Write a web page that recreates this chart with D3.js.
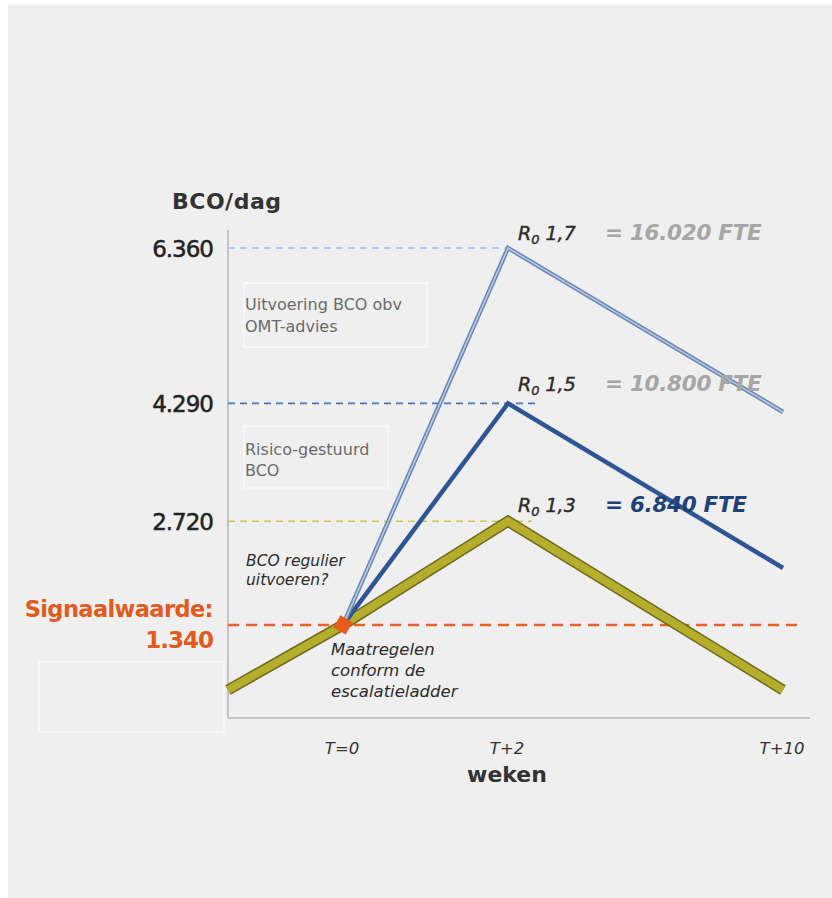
<!DOCTYPE html>
<html>
<head>
<meta charset="utf-8">
<script src="https://cdn.jsdelivr.net/npm/d3@7"></script>
<style>
  html, body { margin: 0; padding: 0; background: #ffffff; }
  svg { display: block; }
</style>
</head>
<body>
<svg id="chart" width="832" height="898"></svg>
<script>
// tijdpunten (weken) en bijbehorende labels
const weken = [-1, 0, 2, 10];
const tickLabels = ["T=0", "T+2", "T+10"];
const tickWeken = [0, 2, 10];

// BCO per dag per scenario
const r13 = [473, 1340, 2720, 473];
const r15 = [null, 1340, 4290, 2098];
const r17 = [null, 1340, 6360, 4176];

const yTicks = [6360, 4290, 2720];
const signaal = 1340;

const scenarios = [
  { name: "R17", values: r17, label: "1,7", fte: "= 16.020 FTE", peak: 6360, dashTo: 2 },
  { name: "R15", values: r15, label: "1,5", fte: "= 10.800 FTE", peak: 4290, dashTo: 2.9 },
  { name: "R13", values: r13, label: "1,3", fte: "= 6.840 FTE", peak: 2720, dashTo: 2.7 }
];

const svg = d3.select("#chart");
const font = "'DejaVu Sans', sans-serif";

// achtergrondpaneel
svg.append("rect")
  .attr("x", 8).attr("y", 5)
  .attr("width", 824).attr("height", 893)
  .attr("fill", "#efefef");

// schalen (x is schematisch, stuksgewijs lineair)
const x = d3.scaleLinear().domain(weken).range([228, 343, 508, 783]);
const y = d3.scaleLinear().domain([100, 6360]).range([718, 248]);

const fmt = d3.formatLocale({ decimal: ",", thousands: ".", grouping: [3] }).format(",");

// tekstvakken
const boxes = [
  { x: 244, y: 283, w: 183, h: 64 },
  { x: 244, y: 426, w: 144, h: 62 },
  { x: 39, y: 662, w: 185, h: 70 }
];
svg.selectAll("rect.box")
  .data(boxes)
  .enter().append("rect")
  .attr("class", "box")
  .attr("x", d => d.x).attr("y", d => d.y)
  .attr("width", d => d.w).attr("height", d => d.h)
  .attr("fill", "none")
  .attr("stroke", "#f9f9f9")
  .attr("stroke-width", 1.5);

// assen
svg.append("line")
  .attr("x1", x(-1)).attr("x2", x(-1))
  .attr("y1", 230).attr("y2", y(100))
  .attr("stroke", "#c4c4c4").attr("stroke-width", 2);
svg.append("line")
  .attr("x1", x(-1)).attr("x2", 810)
  .attr("y1", y(100)).attr("y2", y(100))
  .attr("stroke", "#c4c4c4").attr("stroke-width", 2);

// hulplijnen (gestippeld)
const dashColors = { R17: "#a9c0de", R15: "#4a74b8", R13: "#c9cd55" };
scenarios.forEach(s => {
  svg.append("line")
    .attr("x1", x(-1)).attr("x2", x(s.dashTo))
    .attr("y1", y(s.peak)).attr("y2", y(s.peak))
    .attr("stroke", dashColors[s.name])
    .attr("stroke-width", 1.6)
    .attr("stroke-dasharray", "7,5");
});
svg.append("line")
  .attr("x1", x(-1)).attr("x2", 800)
  .attr("y1", y(signaal)).attr("y2", y(signaal))
  .attr("stroke", "#e8622a")
  .attr("stroke-width", 2.5)
  .attr("stroke-dasharray", "11,7");

// lijnen
const line = d3.line()
  .defined(d => d[1] != null)
  .x(d => x(d[0]))
  .y(d => y(d[1]));

const pts = vals => weken.map((w, i) => [w, vals[i]]);

// R0 1,3 - dikke olijfgroene lijn
svg.append("path").datum(pts(r13)).attr("d", line)
  .attr("fill", "none").attr("stroke", "#6f6a1c").attr("stroke-width", 11)
  .attr("stroke-linejoin", "miter");
svg.append("path").datum(pts(r13)).attr("d", line)
  .attr("fill", "none").attr("stroke", "#b4ae2c").attr("stroke-width", 8)
  .attr("stroke-linejoin", "miter");

// R0 1,5 - donkerblauw
svg.append("path").datum(pts(r15)).attr("d", line)
  .attr("fill", "none").attr("stroke", "#2f5595").attr("stroke-width", 4.5)
  .attr("stroke-linejoin", "miter");

// R0 1,7 - lichtblauw met rand
svg.append("path").datum(pts(r17)).attr("d", line)
  .attr("fill", "none").attr("stroke", "#6985b3").attr("stroke-width", 4.5)
  .attr("stroke-linejoin", "miter");
svg.append("path").datum(pts(r17)).attr("d", line)
  .attr("fill", "none").attr("stroke", "#b8c9e2").attr("stroke-width", 1.6)
  .attr("stroke-linejoin", "miter");

// signaalpunt
svg.append("rect")
  .attr("x", -7).attr("y", -7).attr("width", 14).attr("height", 14)
  .attr("transform", `translate(${x(0)},${y(signaal)}) rotate(30)`)
  .attr("fill", "#ea5a1a");

// y-as titel en labels
svg.append("text")
  .attr("x", 172).attr("y", 209)
  .attr("font-family", font).attr("font-weight", "bold")
  .attr("font-size", 22).attr("fill", "#333")
  .attr("letter-spacing", 0.5)
  .text("BCO/dag");

svg.selectAll("text.ytick")
  .data(yTicks)
  .enter().append("text")
  .attr("class", "ytick")
  .attr("x", 213).attr("y", d => y(d) + 9)
  .attr("text-anchor", "end")
  .attr("font-family", font).attr("font-size", 23)
  .attr("fill", "#222")
  .attr("stroke", "#222").attr("stroke-width", 0.5)
  .attr("letter-spacing", -1)
  .text(d => fmt(d));

svg.append("text")
  .attr("x", 213).attr("y", 617)
  .attr("text-anchor", "end")
  .attr("font-family", font).attr("font-weight", "bold")
  .attr("font-size", 22.5).attr("fill", "#e25a1e")
  .attr("letter-spacing", -0.6)
  .text("Signaalwaarde:");
svg.append("text")
  .attr("x", 213).attr("y", 648)
  .attr("text-anchor", "end")
  .attr("font-family", font).attr("font-weight", "bold")
  .attr("font-size", 23).attr("fill", "#e25a1e")
  .attr("letter-spacing", -1)
  .text(fmt(signaal));

// x-as labels
svg.selectAll("text.xtick")
  .data(tickWeken)
  .enter().append("text")
  .attr("class", "xtick")
  .attr("x", d => x(d) - 1).attr("y", 754)
  .attr("text-anchor", "middle")
  .attr("font-family", font).attr("font-style", "italic")
  .attr("font-size", 16.5).attr("fill", "#333")
  .text((d, i) => tickLabels[i]);

svg.append("text")
  .attr("x", 507).attr("y", 782)
  .attr("text-anchor", "middle")
  .attr("font-family", font).attr("font-weight", "bold")
  .attr("font-size", 22).attr("fill", "#333")
  .text("weken");

// scenario labels
const labelY = { R17: 240, R15: 391, R13: 512 };
const fteColor = { R17: "#a6a6a6", R15: "#a6a6a6", R13: "#1f4178" };
scenarios.forEach(s => {
  const t = svg.append("text")
    .attr("x", 518).attr("y", labelY[s.name])
    .attr("font-family", font).attr("font-style", "italic")
    .attr("font-size", 19).attr("fill", "#2a2a2a")
    .attr("stroke", "#2a2a2a").attr("stroke-width", 0.4);
  t.append("tspan").text("R");
  t.append("tspan").attr("font-size", 13).attr("dy", 4).text("0");
  t.append("tspan").attr("dy", -4).text(" " + s.label);

  svg.append("text")
    .attr("x", 605).attr("y", labelY[s.name])
    .attr("font-family", font).attr("font-style", "italic").attr("font-weight", "bold")
    .attr("font-size", 21.5).attr("fill", fteColor[s.name])
    .attr("letter-spacing", -0.3)
    .text(s.fte);
});

// annotaties
const annotaties = [
  { x: 245, y: 310, lines: ["Uitvoering BCO obv", "OMT-advies"], style: "normal", color: "#6a6a6a", size: 16, lh: 22 },
  { x: 245, y: 455, lines: ["Risico-gestuurd", "BCO"], style: "normal", color: "#6a6a6a", size: 16, lh: 21 },
  { x: 246, y: 566, lines: ["BCO regulier", "uitvoeren?"], style: "italic", color: "#2c2c2c", size: 15.5, lh: 19 },
  { x: 331, y: 655, lines: ["Maatregelen", "conform de", "escalatieladder"], style: "italic", color: "#2c2c2c", size: 16.5, lh: 21 }
];
annotaties.forEach(a => {
  svg.append("text")
    .attr("font-family", font).attr("font-style", a.style)
    .attr("font-size", a.size).attr("fill", a.color)
    .selectAll("tspan")
    .data(a.lines)
    .enter().append("tspan")
    .attr("x", a.x).attr("y", (d, i) => a.y + i * a.lh)
    .text(d => d);
});
</script>
</body>
</html>
